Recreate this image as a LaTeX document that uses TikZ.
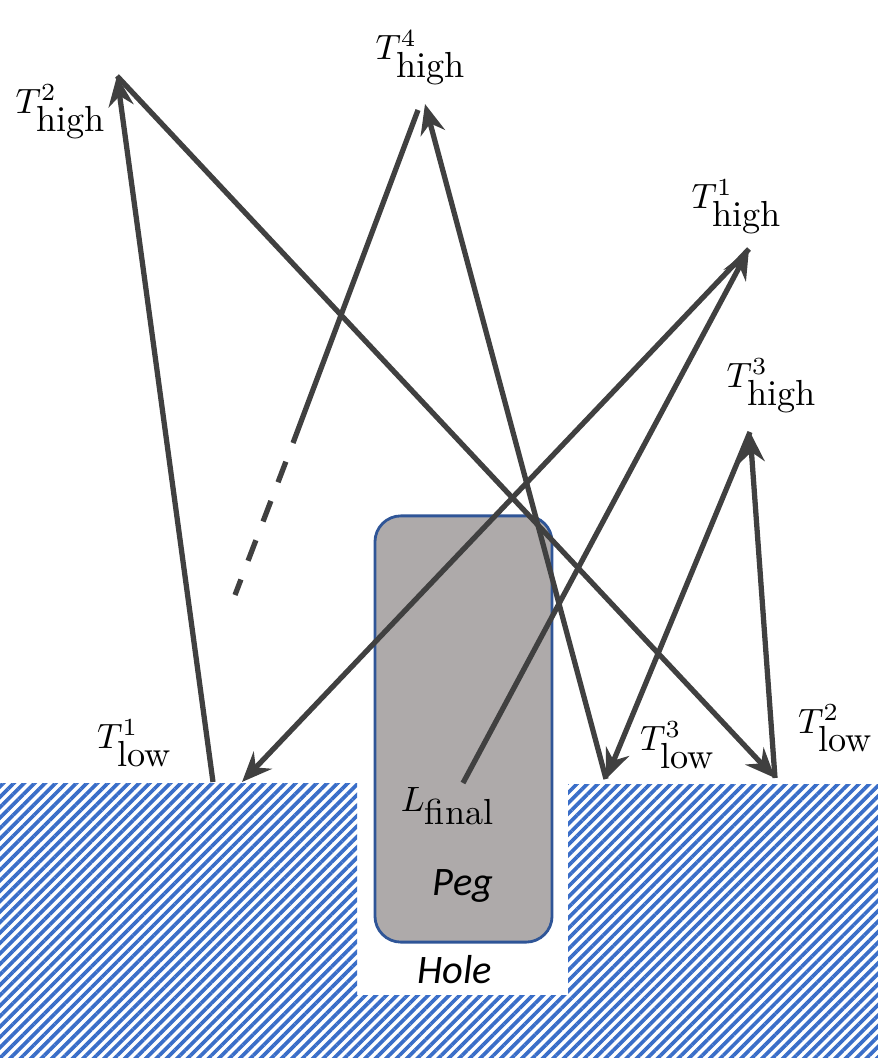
\documentclass[tikz,border=0pt]{standalone}
\usepackage{fontspec}
\newfontfamily\calibrifont{Carlito}
\usetikzlibrary{arrows.meta,patterns.meta}
\definecolor{hatchblue}{RGB}{58,110,200}
\definecolor{pegfill}{RGB}{174,170,170}
\definecolor{pegedge}{RGB}{47,85,151}
\definecolor{pathgray}{RGB}{64,64,64}

\begin{document}
\begin{tikzpicture}[
    x=0.01cm, y=-0.01cm,
    ground/.style={
        pattern={Lines[angle=45, distance=2.1pt, line width=1.05pt]},
        pattern color=hatchblue
    },
    peg/.style={
        draw=pegedge, line width=0.8pt, fill=pegfill, rectangle,
        rounded corners=0.26cm, minimum width=1.77cm, minimum height=4.26cm
    },
    move/.style={draw=pathgray, line width=1.5pt,
                 -{Stealth[length=0.3cm, width=0.25cm, inset=0.1cm]}},
    trail/.style={draw=pathgray, line width=1.5pt},
    tlabel/.style={font=\fontsize{10.3}{12}\selectfont, inner sep=0pt},
    caption/.style={font=\calibrifont\itshape\fontsize{11.5}{13}\selectfont, inner sep=0pt}
]
\useasboundingbox (0,0) rectangle (878,1058);

% ===== Ground with hole =====
\fill[ground] (0,783) -- (357,783) -- (357,995) -- (568,995) -- (568,784)
    -- (878,784) -- (878,1058) -- (0,1058) -- cycle;

% ===== Peg =====
\node[peg] (peg) at (463.5,729) {};
\node[caption] (pegname) at (463,886) {Peg};
\node[caption] (holename) at (455,970) {Hole};

% ===== Turning points =====
\coordinate (low1a) at (213,782);
\coordinate (low1b) at (242,782);
\coordinate (high1) at (749,249);
\coordinate (high2) at (117,76);
\coordinate (low2) at (775,778);
\coordinate (high3) at (750,432);
\coordinate (low3) at (606,779);
\coordinate (high4a) at (425,104);
\coordinate (high4b) at (418,110);
\coordinate (dashstart) at (293,443);
\coordinate (dashend) at (235,595);
\coordinate (final) at (463,783);

% ===== Labels =====
\node[tlabel] (lhigh1) at (737,207) {$T^{1}_{\mbox{high}}$};
\node[tlabel] (lhigh2) at (61,112) {$T^{2}_{\mbox{high}}$};
\node[tlabel] (lhigh3) at (772,386) {$T^{3}_{\mbox{high}}$};
\node[tlabel] (lhigh4) at (421,58) {$T^{4}_{\mbox{high}}$};
\node[tlabel] (llow1) at (135,743) {$T^{1}_{\mbox{low}}$};
\node[tlabel] (llow2) at (836,728) {$T^{2}_{\mbox{low}}$};
\node[tlabel] (llow3) at (678,745) {$T^{3}_{\mbox{low}}$};
\node[tlabel] (lfinal) at (448,806) {$L_{\mbox{final}}$};

% ===== Search path =====
\draw[move] (final) -- (high1);
\draw[move] (high1) -- (low1b);
\draw[move] (low1a) -- (high2);
\draw[move] (high2) -- (low2);
\draw[move] (low2) -- (high3);
\draw[move] (high3) -- (low3);
\draw[move] (low3) -- (high4a);
\draw[trail] (high4b) -- (dashstart);
\draw[trail, dash pattern=on 0.22cm off 0.2cm, dash phase=0.22cm] (dashstart) -- (dashend);

\end{tikzpicture}
\end{document}
